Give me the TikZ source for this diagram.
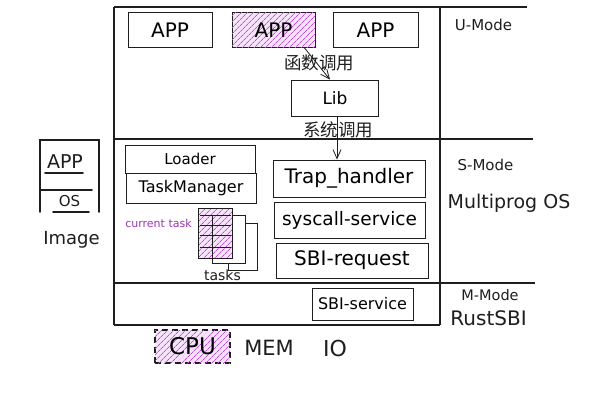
\documentclass[tikz,border=0pt]{standalone}
\usepackage{fontspec}
\setmainfont{DejaVu Sans}
\newfontfamily\cjk{Noto Sans CJK SC}
\usetikzlibrary{arrows.meta,patterns.meta,calc}
\newcommand\myfs[1]{\fontsize{#1}{#1}\selectfont}
\definecolor{ink}{HTML}{1E1E1E}
\definecolor{vio}{HTML}{BE4BDB}
\definecolor{viofill}{HTML}{F6E3FA}
\definecolor{viotext}{HTML}{9C36B5}
\tikzset{
  frameline/.style={draw=ink, line width=1.2pt},
  box/.style={draw=ink, line width=0.9pt, inner sep=0pt, align=center},
  lbl/.style={inner sep=0pt, text=ink},
  hatch/.style={fill=viofill, postaction={pattern={Lines[angle=45,distance=4pt,line width=0.7pt]}, pattern color=vio}},
  arr/.style={draw=ink, line width=0.8pt, -{Straight Barb[length=9pt,width=8pt]}},
  thickline/.style={draw=ink, line width=1.8pt, line cap=round},
}
\begin{document}
\begin{tikzpicture}[x=1pt,y=-1pt]
\useasboundingbox (0,0) rectangle (593,406);
\fill[white] (0,0) rectangle (593,406);

% main frame
\draw[frameline] (114,7) -- (527,7);
\draw[frameline] (114,7) -- (114,325);
\draw[frameline] (440,7) -- (440,325);
\draw[frameline] (114,139) -- (533,139);
\draw[frameline] (114,283) -- (535,283);
\draw[frameline] (114,325) -- (440,325);

% U-mode
\node[box, minimum width=84pt, minimum height=35pt] (app1) at (170,30) {\myfs{20}APP};
\node[box, hatch, minimum width=83pt, minimum height=35pt] (app2) at (273.5,30) {\myfs{20}APP};
\node[box, minimum width=85pt, minimum height=35pt] (app3) at (375.5,30) {\myfs{20}APP};
\node[box, minimum width=87pt, minimum height=36pt] (lib) at (335,98) {\myfs{17}Lib};
\node[lbl] (fcall) at (319,63) {\cjk\myfs{17.5}函数调用};
\node[lbl] (scall) at (338,130) {\cjk\myfs{17.5}系统调用};

% S-mode
\node[box, minimum width=130pt, minimum height=28pt] (loader) at (190,159) {\myfs{15}Loader};
\node[box, minimum width=130pt, minimum height=30pt] (tm) at (191,188) {\myfs{16}TaskManager};
\node[box, minimum width=152pt, minimum height=37pt] (trap) at (349,178.5) {\myfs{20}Trap\_handler};
\node[box, minimum width=151pt, minimum height=36pt] (sys) at (349.5,220) {\myfs{18.5}syscall-service};
\node[box, minimum width=152pt, minimum height=35pt] (sbireq) at (352,260.5) {\myfs{20}SBI-request};

\draw[arr] ([xshift=31pt]app2.south) -- ([xshift=-5pt]lib.north);
\draw[arr] ([xshift=2pt]lib.south) -- ([xshift=-12pt]trap.north);

% tasks stack
\draw[ink, line width=0.9pt, fill=white] (228,223) rectangle (257,270);
\draw[ink, line width=0.9pt, fill=white] (212,215) rectangle (245,263);
\path[hatch] (198,208) rectangle (232,258);
\draw[ink, line width=0.9pt] (198,208) rectangle (232,258);
\draw[ink, line width=0.9pt] (212,215) -- (212,258);
\foreach \yy in {215,225,235,247} \draw[ink, line width=1pt] (200,\yy) -- (231,\yy);
\node[lbl, text=viotext] (cur) at (158.5,223) {\myfs{11}current task};
\node[lbl] (tasks) at (222.5,275) {\myfs{14}tasks};

% M-mode
\node[box, minimum width=101pt, minimum height=32pt] (sbiserv) at (362.5,304) {\myfs{16}SBI-service};

% right labels
\node[lbl] (umode) at (483.5,25) {\myfs{15}U-Mode};
\node[lbl] (smode) at (485.5,165) {\myfs{15}S-Mode};
\node[lbl] (mos) at (509,203) {\myfs{19}Multiprog OS};
\node[lbl] (mmode) at (490,295) {\myfs{14.5}M-Mode};
\node[lbl] (rsbi) at (488.5,318) {\myfs{20}RustSBI};

% image
\draw[thickline] (40,212) -- (40,140) -- (99,140) -- (99,212);
\draw[thickline] (45,173) -- (83,173);
\draw[thickline] (41,190) -- (92,190);
\draw[thickline] (53,212) -- (89,212);
\node[lbl] (iapp) at (65,162) {\myfs{19}APP};
\node[lbl] (ios) at (69.5,201) {\myfs{15}OS};
\node[lbl] (img) at (71.5,240) {\myfs{18}Image};

% hardware
\node[box, hatch, dashed, dash pattern=on 6pt off 4pt, line width=1.3pt, minimum width=75pt, minimum height=33pt] (cpu) at (192.5,346.5) {\myfs{23}CPU};
\node[lbl] (mem) at (269,348) {\myfs{21}MEM};
\node[lbl] (io) at (335,348) {\myfs{22}IO};
\end{tikzpicture}
\end{document}
